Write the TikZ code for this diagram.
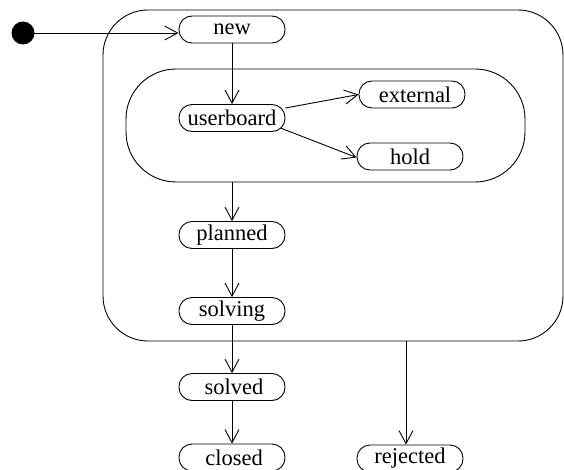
\documentclass[tikz,border=0pt]{standalone}
\usepackage{fontspec}
\setmainfont{Liberation Serif}
\usetikzlibrary{arrows.meta}
\begin{document}
\begin{tikzpicture}[x=1pt,y=-1pt,
  every node/.style={line width=0.9pt},
  state/.style={draw, rectangle, rounded corners=13pt, minimum width=106pt,
    minimum height=27pt, inner sep=0pt, font=\fontsize{22.5}{26}\selectfont},
  region/.style={draw, rectangle, inner sep=0pt},
  trans/.style={line width=0.9pt, -{Straight Barb[length=13pt,width=14pt,line width=0.9pt]}}]
  \useasboundingbox (0,0) rectangle (564,470);

  % composite states
  \node[region, rounded corners=45pt, minimum width=460pt, minimum height=331pt] (outer) at (333,175.5) {};
  \node[region, rounded corners=50pt, minimum width=399pt, minimum height=113pt] (inner) at (325.5,125.5) {};

  % initial pseudostate
  \node[circle, fill=black, draw=black, minimum size=22pt, inner sep=0pt] (init) at (23,33) {};

  % states
  \node[state] (new) at (232,29.5) {new};
  \node[state] (userboard) at (232,118) {userboard};
  \node[state] (external) at (412,94.5) {\hspace{6pt}external};
  \node[state] (hold) at (410,156.5) {hold};
  \node[state] (planned) at (232,235) {planned};
  \node[state] (solving) at (232,311) {solving};
  \node[state] (solved) at (232,387) {\hspace{4pt}solved};
  \node[state] (closed) at (232,457.5) {\hspace{4pt}closed};
  \node[state] (rejected) at (410,458.5) {rejected};

  % transitions
  \draw[trans] (init.east) -- (new.west |- init.east);
  \draw[trans] (new.south) -- (userboard.north);
  \draw[trans] ([yshift=10pt]userboard.east) -- (external.west);
  \draw[trans] ([yshift=-10pt,xshift=-5pt]userboard.east) -- ([yshift=-1pt]hold.west);
  \draw[trans] (planned.north |- inner.south) -- (planned.north);
  \draw[trans] (planned.south) -- (solving.north);
  \draw[trans] (solving.south) -- (solved.north);
  \draw[trans] (solved.south) -- (closed.north);
  \draw[trans] ([xshift=-4pt]rejected.north |- outer.south) -- ([xshift=-4pt]rejected.north);
\end{tikzpicture}
\end{document}
